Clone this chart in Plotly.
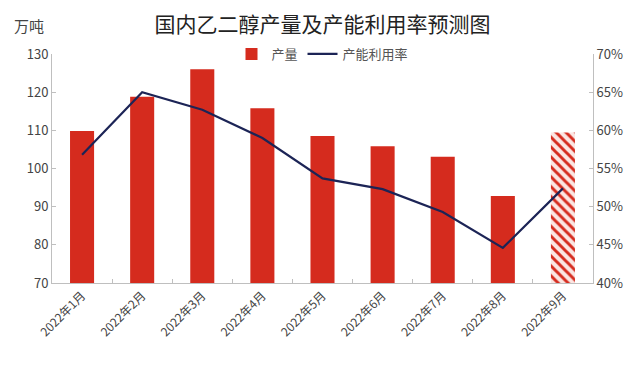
import plotly.graph_objects as go

categories = ["2022年1月", "2022年2月", "2022年3月", "2022年4月", "2022年5月",
              "2022年6月", "2022年7月", "2022年8月", "2022年9月"]
output_wt = [109.8, 118.8, 126.0, 115.8, 108.5, 105.8, 103.1, 92.8, 109.4]
utilization = [0.568, 0.650, 0.627, 0.590, 0.537, 0.523, 0.493, 0.446, 0.524]
forecast_index = 8  # 2022年9月 is a forecast
left_ticks = [70, 80, 90, 100, 110, 120, 130]
right_ticks = [0.40, 0.45, 0.50, 0.55, 0.60, 0.65, 0.70]
right_tick_text = ["40%", "45%", "50%", "55%", "60%", "65%", "70%"]

red = "#d52b1e"
navy = "#1c2456"

actual = [v if i != forecast_index else None for i, v in enumerate(output_wt)]
forecast = [v if i == forecast_index else None for i, v in enumerate(output_wt)]

fig = go.Figure()
fig.add_trace(go.Bar(
    x=categories, y=actual, name="产量",
    marker=dict(color=red, line=dict(width=0)),
    width=0.4,
))
fig.add_trace(go.Bar(
    x=categories, y=forecast, name="产量(预测)", showlegend=False,
    marker=dict(color=red, line=dict(width=0),
                pattern=dict(shape="\\", fillmode="replace", bgcolor="#fbe6e3",
                             fgcolor=red, fgopacity=1, size=7, solidity=0.42)),
    width=0.4,
))
fig.add_trace(go.Scatter(
    x=categories, y=utilization, name="产能利用率", yaxis="y2",
    mode="lines", line=dict(color=navy, width=2.2),
))

font = "Noto Sans CJK SC"
fig.update_layout(
    width=640, height=369,
    margin=dict(l=52, r=47, t=54, b=86),
    paper_bgcolor="white", plot_bgcolor="white",
    font=dict(family=font, color="#444", size=13),
    title=dict(text="国内乙二醇产量及产能利用率预测图", x=0.5, xanchor="center",
               xref="paper", y=1 - 25 / 369, yanchor="middle",
               font=dict(family=font, size=21, color="#222")),
    showlegend=True,
    legend=dict(orientation="h", x=0.5, xanchor="center", y=1.0, yanchor="middle",
                font=dict(size=13, color="#555"), bgcolor="rgba(0,0,0,0)",
                itemwidth=30),
    barmode="overlay",
    xaxis=dict(showgrid=False, showline=True, linecolor="#bfbfbf", linewidth=1,
               ticks="inside", ticklen=4, tickcolor="#bfbfbf", tickson="boundaries",
               tickangle=-45, tickfont=dict(size=12, color="#444"), automargin=False),
    yaxis=dict(range=[70, 130], tickvals=left_ticks, showgrid=False, zeroline=False,
               showline=True, linecolor="#bfbfbf", linewidth=1,
               ticks="inside", ticklen=4, tickcolor="#bfbfbf",
               tickfont=dict(size=13, color="#444"), automargin=False),
    yaxis2=dict(range=[0.40, 0.70], tickvals=right_ticks, ticktext=right_tick_text,
                overlaying="y", side="right", showgrid=False, zeroline=False,
                showline=True, linecolor="#bfbfbf", linewidth=1,
                ticks="inside", ticklen=4, tickcolor="#bfbfbf",
                tickfont=dict(size=13, color="#444"), automargin=False),
    annotations=[dict(text="万吨", xref="paper", yref="paper", x=-0.042, y=1 + 29 / 229,
                      xanchor="center", yanchor="middle", showarrow=False,
                      font=dict(family=font, size=15, color="#444"))],
)

fig.write_html("out.html", config={"displayModeBar": False},
               post_script="document.body.style.margin='0';")
